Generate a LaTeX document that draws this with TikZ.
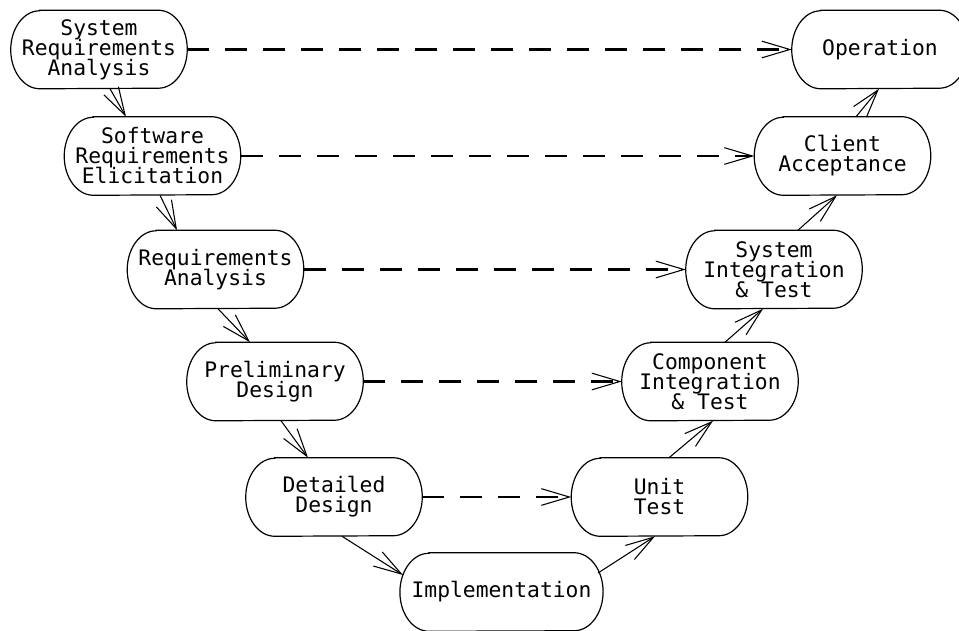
\documentclass[tikz,border=0pt]{standalone}
\usepackage{fontspec}
\setmonofont{DejaVu Sans Mono}
\usetikzlibrary{arrows.meta,calc}
\newcommand\phasefont{\ttfamily\fontsize{16}{15}\selectfont\lineskiplimit=-20pt\relax}
\begin{document}
\begin{tikzpicture}[x=0.75pt,y=-0.75pt,
  phase/.style={rectangle, minimum width=132pt, minimum height=58.5pt, align=center, inner sep=0pt,
    font=\phasefont},
  outline/.style={line width=0.9pt},
  flow/.style={line width=0.8pt, -{Straight Barb[length=21pt 0 0,width=12.5pt 0 0,line width=0.8pt 0 1]}},
  trace/.style={line width=1.8pt, dash pattern=on 16.5pt off 12pt,
    -{Straight Barb[length=21pt 0 0,width=12.5pt 0 0,line width=0.8pt 0 1]}}]
\path[use as bounding box] (0,0) rectangle (959,631);

\node[phase] (sra) at (99,49.5) {System\\Requirements\\Analysis};
\node[phase] (swre) at (152.5,156) {Software\\Requirements\\Elicitation};
\node[phase] (ra) at (215.5,269.5) {Requirements\\Analysis};
\node[phase] (pd) at (275,381.5) {Preliminary\\Design};
\node[phase] (dd) at (334,497) {Detailed\\Design};
\node[phase, minimum width=152pt] (impl) at (501.5,592) {Implementation};
\node[phase] (ut) at (659.5,497) {Unit\\Test};
\node[phase] (cit) at (710,381.5) {Component\\Integration\\\& Test};
\node[phase] (sit) at (774,269.5) {System\\Integration\\\& Test};
\node[phase] (ca) at (842.5,156) {Client\\Acceptance};
\node[phase] (op) at (880,49.5) {Operation};

% stadium outlines with elliptical ends
\foreach \n in {sra,swre,ra,pd,dd,impl,ut,cit,sit,ca,op}
  \draw[outline] ($(\n.north west)+(29,0)$) -- ($(\n.north east)+(-29,0)$)
    arc[start angle=90, end angle=-90, x radius=21.75pt, y radius=29.25pt]
    -- ($(\n.south west)+(29,0)$)
    arc[start angle=270, end angle=90, x radius=21.75pt, y radius=29.25pt] -- cycle;

\draw[flow] ($(sra.south)+(11,0)$) -- ($(swre.north)+(-26.5,0)$);
\draw[flow] ($(swre.south)+(7.5,0)$) -- ($(ra.north)+(-38.5,0)$);
\draw[flow] ($(ra.south)+(2.5,0)$) -- ($(pd.north)+(-25,0)$);
\draw[flow] ($(pd.south)+(6,0)$) -- ($(dd.north)+(-26,0)$);
\draw[flow] ($(dd.south)+(8,0)$) -- ($(impl.center)+(-98.5,-17)$);
\draw[flow] ($(impl.center)+(96.5,-19)$) -- ($(ut.south)+(-4.5,0)$);
\draw[flow] ($(ut.north)+(9.5,0)$) -- ($(cit.south)+(3,0)$);
\draw[flow] ($(cit.north)+(15,0)$) -- ($(sit.south)+(-11,0)$);
\draw[flow] ($(sit.north)+(24,0)$) -- ($(ca.south)+(-5.5,0)$);
\draw[flow] ($(ca.north)+(13.5,0)$) -- ($(op.south)+(-1,0)$);

\draw[trace] (sra.east) -- (op.west);
\draw[trace] (swre.east) -- (ca.west);
\draw[trace] (ra.east) -- (sit.west);
\draw[trace] (pd.east) -- (cit.west);
\draw[trace] (dd.east) -- (ut.west);
\end{tikzpicture}
\end{document}
